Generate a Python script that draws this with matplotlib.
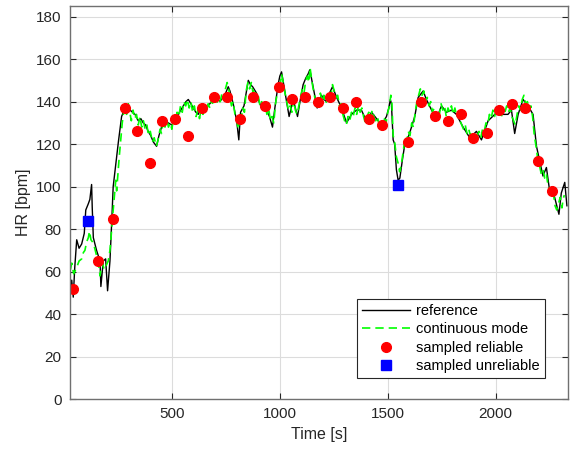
import numpy as np
import matplotlib
matplotlib.use("Agg")
import matplotlib.pyplot as plt

# Reference heart rate trace (time [s], HR [bpm])
ref_t = [30, 36, 43, 50, 59, 70, 82, 94, 101, 113, 120, 128, 131, 136, 151, 167, 171, 182, 193, 202,
         213, 221, 228, 236, 252, 267, 283, 295, 306, 318, 329, 344, 356, 367, 378, 390, 402, 414, 429, 440,
         452, 468, 483, 499, 514, 529, 553, 565, 576, 588, 599, 611, 622, 630, 645, 661, 676, 691, 706, 722,
         745, 761, 769, 784, 792, 800, 810, 818, 834, 844, 854, 864, 874, 892, 904, 915, 938, 952, 966, 977,
         992, 1000, 1008, 1023, 1033, 1043, 1062, 1072, 1082, 1095, 1108, 1120, 1131, 1139, 1154, 1173, 1193,
         1205, 1216, 1230, 1244, 1263, 1286, 1309, 1332, 1355, 1378, 1401, 1425, 1448, 1471, 1494, 1505, 1512,
         1517, 1525, 1532, 1540, 1548, 1556, 1567, 1579, 1594, 1610, 1625, 1641, 1664, 1679, 1703, 1726, 1749,
         1772, 1795, 1818, 1849, 1880, 1911, 1934, 1965, 1996, 2027, 2057, 2073, 2088, 2104, 2127, 2150, 2173,
         2189, 2204, 2219, 2235, 2250, 2273, 2293, 2304, 2320, 2330]
ref_hr = [50, 56, 48, 62, 75, 71, 73, 78, 89, 92, 94, 101, 90, 76, 70, 65, 53, 65, 66, 51,
          65, 83, 100, 107, 121, 133, 137, 138, 136, 135, 134, 131, 132, 130, 129, 126, 124, 121, 119, 124,
          128, 131, 130, 129, 131, 134, 138, 140, 141, 139, 137, 135, 134, 136, 135, 138, 139, 141, 142, 140,
          143, 147, 145, 139, 135, 131, 122, 135, 138, 144, 150, 148, 147, 144, 140, 137, 136, 133, 128, 137,
          148, 152, 154, 145, 139, 133, 141, 137, 133, 141, 148, 151, 153, 155, 147, 137, 143,
          141, 140, 144, 147, 142, 137, 130, 134, 136, 136, 131, 135, 132, 129, 133, 137, 141,
          139, 122, 120, 108, 103, 104, 112, 120, 123, 128, 133, 142, 145, 141, 136, 132, 138,
          135, 136, 134, 128, 123, 126, 122, 131, 134, 134, 134, 136, 125, 134, 141, 138, 134,
          119, 112, 105, 109, 98, 95, 87, 97, 102, 91]

# Continuous mode estimate
cont_t = [30, 36, 45, 59, 70, 82, 90, 97, 105, 113, 118, 125, 132, 140, 150, 159, 167, 172, 177, 187,
          196, 205, 213, 218, 228, 240, 244, 256, 262, 270, 278, 285, 290, 298, 305, 312, 320, 328, 336, 344,
          352, 360, 368, 376, 384, 392, 400, 410, 418, 428, 436, 445, 452, 460, 468, 476, 484, 492, 500, 508,
          516, 524, 532, 540, 548, 556, 564, 572, 580, 588, 596, 604, 612, 620, 628, 636, 644, 652, 660, 668,
          676, 684, 692, 700, 708, 716, 724, 732, 740, 748, 756, 761, 768, 776, 784, 792, 800, 808, 814, 820,
          828, 836, 844, 852, 860, 868, 876, 884, 892, 900, 908, 916, 924, 932, 940, 948, 956, 964, 972, 980,
          988, 996, 1002, 1008, 1016, 1024, 1032, 1040, 1048, 1056, 1064, 1072, 1080, 1088, 1096, 1104, 1112,
          1120, 1128, 1134, 1140, 1148, 1156, 1164, 1172, 1180, 1188, 1196, 1204, 1212, 1220, 1228, 1236, 1244,
          1252, 1260, 1268, 1276, 1284, 1292, 1300, 1308, 1316, 1324, 1332, 1340, 1348, 1356, 1364, 1372, 1380,
          1388, 1396, 1404, 1412, 1420, 1428, 1436, 1444, 1452, 1460, 1468, 1476, 1484, 1492, 1500, 1508, 1514,
          1519, 1525, 1532, 1540, 1548, 1555, 1562, 1571, 1579, 1587, 1595, 1603, 1611, 1619, 1627, 1635, 1643,
          1651, 1659, 1667, 1675, 1683, 1691, 1699, 1707, 1715, 1723, 1731, 1739, 1747, 1755, 1763, 1771, 1779,
          1787, 1795, 1803, 1811, 1819, 1827, 1835, 1843, 1851, 1859, 1867, 1875, 1883, 1891, 1899, 1907, 1915,
          1923, 1931, 1939, 1947, 1955, 1963, 1971, 1979, 1987, 1995, 2003, 2011, 2019, 2027, 2035, 2043, 2051,
          2059, 2067, 2075, 2083, 2091, 2099, 2107, 2115, 2123, 2131, 2139, 2147, 2155, 2163, 2171, 2179, 2187,
          2195, 2203, 2211, 2219, 2227, 2235, 2243, 2251, 2259, 2267, 2275, 2283, 2291, 2299, 2307, 2312, 2318]
cont_hr = [61, 64, 59, 62, 65, 66, 69, 70, 74, 76, 79, 75, 74, 72, 68, 65, 58, 62, 64, 61,
           63, 65, 70, 76, 89, 103, 98, 114, 121, 130, 136, 138, 134, 139, 135, 131, 136, 132, 134, 129,
           133, 128, 131, 127, 129, 124, 126, 121, 123, 119, 122, 127, 125, 131, 128, 132, 128, 130, 127, 133,
           130, 135, 133, 138, 135, 140, 138, 141, 137, 140, 135, 138, 133, 136, 132, 137, 134, 138, 135, 139,
           137, 141, 138, 142, 139, 143, 140, 144, 141, 146, 149, 147, 143, 138, 140, 134, 131, 127, 133, 131,
           137, 135, 145, 149, 146, 149, 144, 146, 141, 143, 138, 140, 135, 139, 134, 137, 131, 133, 130, 139,
           144, 150, 148, 153, 149, 144, 140, 136, 138, 135, 141, 136, 134, 138, 142, 146, 144,
           150, 152, 149, 156, 150, 145, 141, 137, 140, 144, 140, 143, 139, 141, 144, 142, 148,
           145, 142, 143, 138, 139, 134, 131, 129, 133, 131, 135, 133, 137, 134, 138, 135, 137,
           133, 130, 133, 135, 132, 136, 133, 131, 133, 129, 131, 128, 132, 130, 135, 138, 143,
           140, 124, 121, 114, 111, 107, 110, 116, 122, 120, 126, 124, 130, 128, 135, 140, 143,
           146, 143, 145, 140, 142, 138, 140, 135, 137, 132, 135, 134, 139, 136, 138, 133, 137,
           135, 138, 134, 137, 133, 135, 131, 129, 127, 129, 125, 127, 124, 126, 122, 125, 124,
           126, 123, 127, 126, 130, 129, 134, 132, 136, 133, 137, 134, 136, 133, 137, 135, 138,
           135, 137, 133, 131, 129, 134, 138, 136, 141, 143, 139, 140, 136, 138, 133, 124, 119,
           113, 110, 106, 108, 104, 106, 100, 98, 95, 97, 91, 89, 92, 95, 90, 94, 96]

# Spot measurements
reliable_t = [40, 156, 226, 283, 337, 400, 452, 514, 576, 638, 696, 753, 815, 874, 932, 994, 1056,
              1117, 1175, 1233, 1292, 1354, 1415, 1474, 1593, 1653, 1718, 1778, 1838, 1894, 1959,
              2014, 2074, 2134, 2195, 2259]
reliable_hr = [52, 65, 85, 137, 126, 111, 131, 132, 124, 137, 142, 142, 132, 142, 138, 147, 141,
               142, 140, 142, 137, 140, 132, 129, 121, 140, 133, 131, 134, 123, 125,
               136, 139, 137, 112, 98]
unreliable_t = [113, 1548]
unreliable_hr = [84, 101]

plt.rcParams["font.family"] = ["Liberation Sans", "DejaVu Sans"]

fig = plt.figure(figsize=(5.72, 4.5), dpi=100)
ax = fig.add_axes([0.1224, 0.113, 0.8706, 0.8737])

ax.plot(ref_t, ref_hr, color="black", linewidth=1.0, label="reference")
ax.plot(cont_t, cont_hr, color="#00ff00", linestyle=(0, (5, 3)), linewidth=1.2,
        label="continuous mode")
ax.plot(reliable_t, reliable_hr, "o", color="red", markersize=7, linestyle="none",
        label="sampled reliable")
ax.plot(unreliable_t, unreliable_hr, "s", color="blue", markersize=7, linestyle="none",
        label="sampled unreliable")

ax.set_xlim(28, 2335)
ax.set_ylim(0, 185)
ax.set_xticks([500, 1000, 1500, 2000])
ax.set_yticks(np.arange(0, 181, 20))
ax.grid(True, color="#dcdcdc", linewidth=0.8)
ax.set_axisbelow(True)
ax.tick_params(direction="in", top=True, right=True, length=4, labelsize=11,
               colors="#262626", pad=6)
for sp in ax.spines.values():
    sp.set_color("#707070")
    sp.set_linewidth(1.0)

ax.set_xlabel("Time [s]", fontsize=11.5, color="#262626")
ax.set_ylabel("HR [bpm]", fontsize=11.5, color="#262626")

leg = ax.legend(loc="lower right", bbox_to_anchor=(0.968, 0.035), fontsize=10.5,
                handlelength=3.3, fancybox=False, framealpha=1, edgecolor="#262626",
                borderpad=0.35, labelspacing=0.3, handletextpad=0.4)
leg.get_frame().set_linewidth(0.8)

fig.savefig("out.png", dpi=100)
